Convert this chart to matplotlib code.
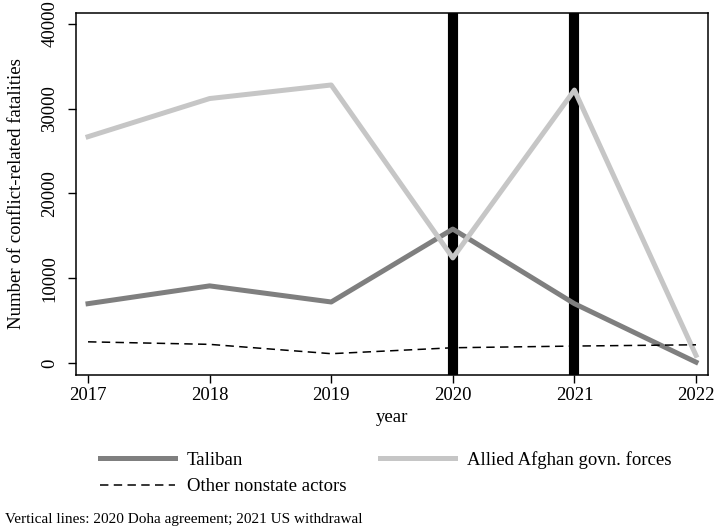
import matplotlib.pyplot as plt

plt.rcParams['font.family'] = ['Liberation Serif', 'DejaVu Serif']

years = [2017, 2018, 2019, 2020, 2021, 2022]
taliban = [7000, 9100, 7200, 15800, 7000, 100]
allied = [26700, 31200, 32800, 12400, 32200, 900]
other = [2500, 2200, 1100, 1800, 2000, 2150]
event_years = [2020, 2021]

fig = plt.figure(figsize=(7.17, 5.28), dpi=100)
ax = fig.add_axes([0.106, 0.2907, 0.8815, 0.6856])

# vertical event lines
for yr in event_years:
    ax.axvline(yr, color='black', lw=7.3, zorder=1)

l1, = ax.plot(years, taliban, color='#7f7f7f', lw=3.6, zorder=3)
l2, = ax.plot(years, allied, color='#c6c6c6', lw=3.6, zorder=3)
l3, = ax.plot(years, other, color='black', lw=1.1, ls=(0, (5.5, 3.5)), zorder=3)

ax.set_xlim(2016.901, 2022.099)
ax.set_ylim(-1357, 41350)
ax.set_xticks(years)
ax.set_yticks([0, 10000, 20000, 30000, 40000])
ax.tick_params(labelsize=13.5, direction='out', length=5.8, width=1)
ax.tick_params(axis='y', pad=7)
ax.tick_params(axis='x', pad=3)
for lab in ax.get_yticklabels():
    lab.set_rotation(90)
    lab.set_va('center')
for sp in ax.spines.values():
    sp.set_linewidth(1.1)
ax.set_xlabel('year', fontsize=13.5, labelpad=4)
ax.set_ylabel('Number of conflict-related fatalities', fontsize=13.5, labelpad=12)

fig.legend([l1, l3, l2], ['Taliban', 'Other nonstate actors', 'Allied Afghan govn. forces'],
           ncol=2, frameon=False, fontsize=13.5, loc='upper left',
           bbox_to_anchor=(0.1395, 0.146), borderpad=0, borderaxespad=0,
           handlelength=4.0, columnspacing=1.8, labelspacing=0.5, handletextpad=0.64)
fig.text(0.007, 0.016, 'Vertical lines: 2020 Doha agreement; 2021 US withdrawal',
         fontsize=11, va='center')

fig.savefig('out.png', dpi=100)
